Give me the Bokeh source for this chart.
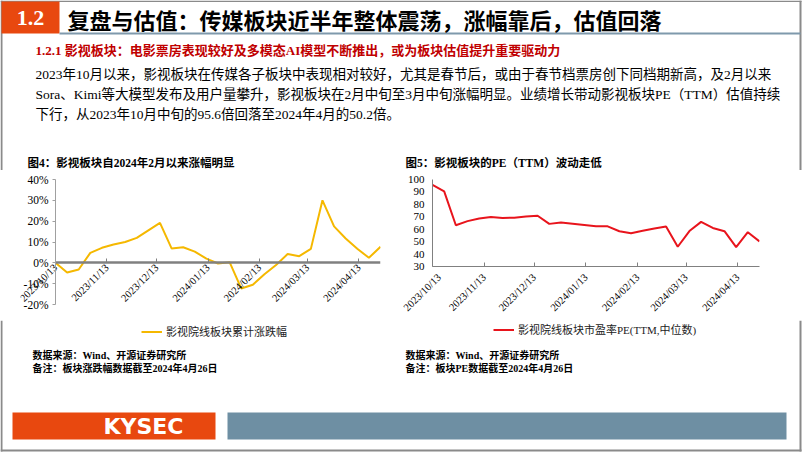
import math
import pandas as pd
from bokeh.plotting import figure
from bokeh.models import (Range1d, Label, FixedTicker, DatetimeTickFormatter, PrintfTickFormatter,
                          Legend, LegendItem, BoxAnnotation, ColumnDataSource)
from bokeh.layouts import column, row
from bokeh.embed import file_html
from bokeh.resources import INLINE

# ---------------- data ----------------
dates = ["2023-10-13", "2023-10-20", "2023-10-27", "2023-11-03", "2023-11-10", "2023-11-17",
         "2023-11-24", "2023-12-01", "2023-12-08", "2023-12-15", "2023-12-22", "2023-12-29",
         "2024-01-05", "2024-01-12", "2024-01-19", "2024-01-26", "2024-02-02", "2024-02-09",
         "2024-02-16", "2024-02-23", "2024-03-01", "2024-03-08", "2024-03-15", "2024-03-22",
         "2024-03-29", "2024-04-05", "2024-04-12", "2024-04-19", "2024-04-26"]
rise_pct = [0.0, -4.6, -3.2, 4.8, 7.2, 8.8, 10.0, 12.0, 15.6, 19.2, 6.9, 7.5, 5.4, 2.0,
            -0.3, 0.3, -12.3, -10.5, -5.5, -1.0, 4.2, 3.2, 6.7, 30.0, 17.5, 11.7, 6.8, 2.4, 7.7]
pe_ttm = [95.6, 90.5, 63.2, 66.5, 68.6, 69.8, 69.0, 69.3, 70.3, 70.8, 64.3, 65.4, 64.4, 63.4,
          62.4, 62.3, 58.4, 56.8, 58.7, 60.6, 62.2, 45.9, 58.5, 65.9, 61.0, 58.4, 45.6, 57.6, 50.2]
tick_dates = ["2023-10-13", "2023-11-13", "2023-12-13", "2024-01-13", "2024-02-13",
              "2024-03-13", "2024-04-13"]
pct_ticks = [-20, -10, 0, 10, 20, 30, 40]
pe_ticks = [30, 40, 50, 60, 70, 80, 90, 100]

title_main = "复盘与估值：传媒板块近半年整体震荡，涨幅靠后，估值回落"
subtitle = "1.2.1  影视板块：电影票房表现较好及多模态AI模型不断推出，或为板块估值提升重要驱动力"
para = ["2023年10月以来，影视板块在传媒各子板块中表现相对较好，尤其是春节后，或由于春节档票房创下同档期新高，及2月以来",
        "Sora、Kimi等大模型发布及用户量攀升，影视板块在2月中旬至3月中旬涨幅明显。业绩增长带动影视板块PE（TTM）估值持续",
        "下行，从2023年10月中旬的95.6倍回落至2024年4月的50.2倍。"]
fig4_title = "图4：影视板块自2024年2月以来涨幅明显"
fig5_title = "图5：影视板块的PE（TTM）波动走低"
legend4 = "影视院线板块累计涨跌幅"
legend5 = "影视院线板块市盈率PE(TTM,中位数)"
src4 = ["数据来源：Wind、开源证券研究所", "备注：板块涨跌幅数据截至2024年4月26日"]
src5 = ["数据来源：Wind、开源证券研究所", "备注：板块PE数据截至2024年4月26日"]

# ---------------- styles ----------------
CJK = "Noto Sans CJK SC"
SERIF = "Liberation Serif, Noto Sans CJK SC"
FRAME = "#8a8a8a"
ORANGE = "#E8480F"
STEEL = "#6E8FA3"
GOLD = "#F5B800"
RED = "#E8141C"

dt = pd.to_datetime(dates)
t_first = pd.Timestamp(dates[0]).value / 1e6
t_last = pd.Timestamp(dates[-1]).value / 1e6
tick_ms = [pd.Timestamp(d).value / 1e6 for d in tick_dates]
fmt = "%Y/%m/%d"
dt_fmt = DatetimeTickFormatter(days=fmt, months=fmt, years=fmt, hours=fmt, minutes=fmt,
                               seconds=fmt, milliseconds=fmt, microseconds=fmt, hourmin=fmt,
                               minsec=fmt)


def blank(w, y_top, y_bot):
    p = figure(width=w, height=y_bot - y_top, x_range=Range1d(0, w), y_range=Range1d(y_bot, y_top),
               output_backend="svg", toolbar_location=None, min_border=0,
               x_axis_location=None, y_axis_location=None)
    p.grid.visible = False
    p.outline_line_color = None
    p.background_fill_color = "white"
    p.border_fill_color = "white"
    return p


def lab(p, x, y, text, size, font=SERIF, color="black", style="normal", align="left"):
    p.add_layout(Label(x=x, y=y, text=text, text_font=font, text_font_size=f"{size}px",
                       text_color=color, text_font_style=style, text_align=align,
                       text_baseline="middle"))


def border_box(p, left, right, h):
    p.add_layout(BoxAnnotation(left=left, right=right, top=0, bottom=h, left_units="canvas",
                               right_units="canvas", top_units="canvas", bottom_units="canvas",
                               fill_color=FRAME, fill_alpha=1, line_alpha=0))


# ---------------- header ----------------
H_TOP = 170
hd = blank(802, 0, H_TOP)
hd.quad(left=0, right=801, top=0, bottom=1.5, fill_color=FRAME, line_color=None)
hd.quad(left=0, right=2, top=0, bottom=H_TOP, fill_color=FRAME, line_color=None)
hd.quad(left=799, right=801, top=0, bottom=H_TOP, fill_color=FRAME, line_color=None)
hd.quad(left=1, right=59, top=1, bottom=33, fill_color=ORANGE, line_color=None)
hd.quad(left=59, right=800, top=32, bottom=34, fill_color="#7F99AC", line_color=None)
lab(hd, 30, 17.5, "1.2", 22, font="Liberation Serif", color="white", style="bold", align="center")
lab(hd, 67, 18, title_main, 22, font=CJK, style="bold")
lab(hd, 35, 50, subtitle, 13, color="#C00000", style="bold")
for t, yy in zip(para, [74, 94, 114]):
    lab(hd, 35, yy, t, 13.5)
lab(hd, 27, 162, fig4_title, 11.5, style="bold")
lab(hd, 405, 162, fig5_title, 11.5, style="bold")

# ---------------- left chart ----------------
CH = 150
# plot frame is padded around the data span so that the axes (drawn at fixed
# locations, bounded to the data span) and their labels are not clipped
L_BORDER, R_BORDER, T_BORDER, B_BORDER = 20, 21, 1, 8
AXIS_X, PLOT_W, PLOT_H = 55, 325, 125   # y axis position, data span in px
PAD_T, PAD_B = 8, 8                     # px above 40% / below -20%
span = t_last - t_first
x_start = t_first - span * (AXIS_X - L_BORDER) / PLOT_W
units_per_px = 60 / PLOT_H
y_top = 40 + PAD_T * units_per_px
y_bot = -20 - PAD_B * units_per_px

s4 = ColumnDataSource(dict(date=dt, v=rise_pct))
pl = figure(width=401, height=CH, x_axis_type="datetime",
            x_range=Range1d(x_start, t_last), y_range=Range1d(y_bot, y_top),
            output_backend="svg", toolbar_location=None, frame_align=False,
            min_border_left=L_BORDER, min_border_right=R_BORDER,
            min_border_top=T_BORDER, min_border_bottom=B_BORDER)
r4 = pl.line(x="date", y="v", source=s4, line_color=GOLD, line_width=2)
pl.grid.visible = False
pl.outline_line_color = None
pl.xaxis.fixed_location = 0
pl.xaxis.bounds = (t_first, t_last)
pl.xaxis.ticker = FixedTicker(ticks=tick_ms)
pl.xaxis.formatter = dt_fmt
pl.xaxis.major_label_orientation = math.pi / 4
pl.xaxis.axis_line_color = "#808080"
pl.xaxis.axis_line_width = 2.5
pl.xaxis.major_tick_in = 4
pl.xaxis.major_tick_out = 0
pl.xaxis.major_tick_line_color = "#808080"
pl.xaxis.minor_tick_line_color = None
pl.xaxis.major_label_standoff = 3
pl.yaxis.fixed_location = t_first
pl.yaxis.bounds = (-20, 40)
pl.yaxis.ticker = FixedTicker(ticks=pct_ticks)
pl.yaxis.formatter = PrintfTickFormatter(format="%d%%")
pl.yaxis.axis_line_color = "#a0a0a0"
pl.yaxis.major_tick_line_color = "#a0a0a0"
pl.yaxis.major_tick_in = 0
pl.yaxis.major_tick_out = 3
pl.yaxis.minor_tick_line_color = None
pl.yaxis.major_label_standoff = 4
for ax in (pl.xaxis, pl.yaxis):
    ax.major_label_text_font = "Liberation Serif"
    ax.major_label_text_color = "black"
pl.xaxis.major_label_text_font_size = "10.5px"
pl.yaxis.major_label_text_font_size = "11.5px"
border_box(pl, 0, 2, CH)

# ---------------- right chart ----------------
s5 = ColumnDataSource(dict(date=dt, v=pe_ttm))
pr = figure(width=401, height=CH, x_axis_type="datetime",
            x_range=Range1d(t_first, t_last), y_range=Range1d(30, 100),
            output_backend="svg", toolbar_location=None, frame_align=False,
            min_border_left=31, min_border_right=43, min_border_top=9, min_border_bottom=53)
r5 = pr.line(x="date", y="v", source=s5, line_color=RED, line_width=2)
pr.grid.visible = False
pr.outline_line_color = None
pr.xaxis.ticker = FixedTicker(ticks=tick_ms)
pr.xaxis.formatter = dt_fmt
pr.xaxis.major_label_orientation = math.pi / 4
pr.xaxis.axis_line_color = "#808080"
pr.xaxis.major_tick_in = 4
pr.xaxis.major_tick_out = 0
pr.xaxis.major_tick_line_color = "#808080"
pr.xaxis.minor_tick_line_color = None
pr.xaxis.major_label_standoff = 9
pr.yaxis.ticker = FixedTicker(ticks=pe_ticks)
pr.yaxis.axis_line_color = "#808080"
pr.yaxis.major_tick_in = 0
pr.yaxis.major_tick_out = 0
pr.yaxis.minor_tick_line_color = None
pr.yaxis.major_label_standoff = 8
for ax in (pr.xaxis, pr.yaxis):
    ax.major_label_text_font = "Liberation Serif"
    ax.major_label_text_color = "black"
pr.xaxis.major_label_text_font_size = "10.5px"
pr.yaxis.major_label_text_font_size = "11px"
border_box(pr, 398, 400, CH)

# ---------------- footer (legends, notes, logo bar) ----------------
F_TOP = H_TOP + CH
ft = blank(802, F_TOP, 452)
ft.quad(left=0, right=2, top=F_TOP, bottom=451, fill_color=FRAME, line_color=None)
ft.quad(left=799, right=801, top=F_TOP, bottom=451, fill_color=FRAME, line_color=None)
ft.quad(left=0, right=801, top=449, bottom=451, fill_color=FRAME, line_color=None)

# legend keys (renderers with no visible points, only used for the legend swatch)
key4 = ft.line(x=[float("nan")], y=[float("nan")], line_color=GOLD, line_width=2)
key5 = ft.line(x=[float("nan")], y=[float("nan")], line_color=RED, line_width=2)
for key, text, lx, ly in ((key4, legend4, 141, 452 - 339), (key5, legend5, 493, 452 - 337)):
    ft.add_layout(Legend(items=[LegendItem(label=text, renderers=[key])], location=(lx, ly),
                         border_line_color=None, background_fill_alpha=0, padding=0, margin=0,
                         glyph_width=21, glyph_height=13, label_height=13, label_standoff=4,
                         label_text_font=SERIF, label_text_font_size="11px",
                         label_text_color="#222222"))

for t, yy in zip(src4, [355, 368]):
    lab(ft, 32, yy, t, 10, style="bold")
for t, yy in zip(src5, [355, 368]):
    lab(ft, 405, yy, t, 10, style="bold")
ft.quad(left=12, right=215, top=412, bottom=439, fill_color=ORANGE, line_color=None)
ft.quad(left=227, right=786, top=412, bottom=439, fill_color=STEEL, line_color=None)
lab(ft, 143, 426, "KYSEC", 22, font="DejaVu Sans", color="white", style="bold", align="center")

layout = column(hd, row(pl, pr), ft)
open("out.html", "w").write(file_html(layout, INLINE))
